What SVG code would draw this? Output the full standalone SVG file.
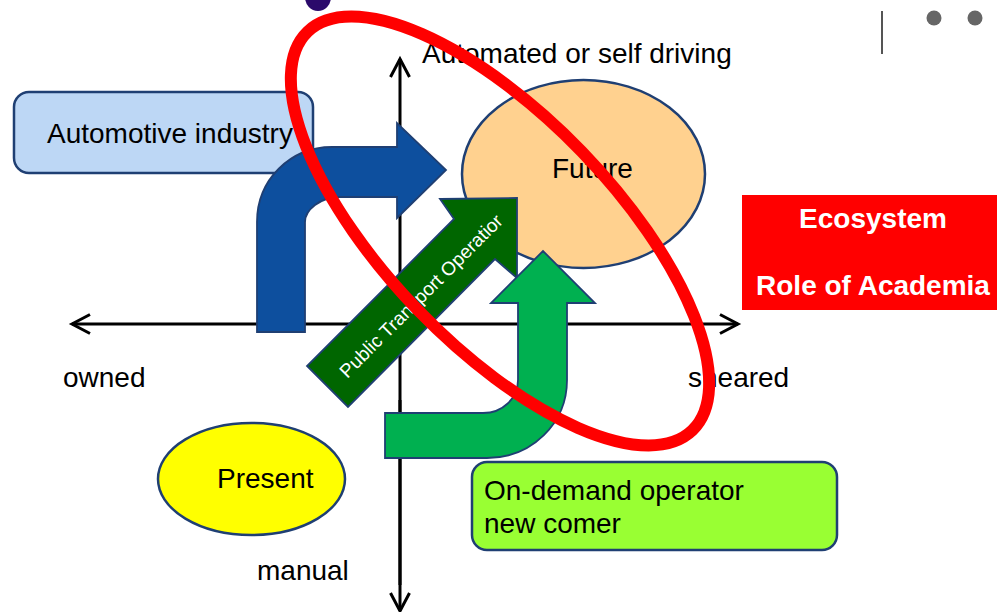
<svg xmlns="http://www.w3.org/2000/svg" width="997" height="612" viewBox="0 0 997 612">
<defs>
<style>
.t{font-family:"Liberation Sans",Arial,sans-serif;font-size:28px;fill:#000}
.tb{font-family:"Liberation Sans",Arial,sans-serif;font-size:28px;font-weight:bold;fill:#fff}
.box{stroke:#1F3F73;stroke-width:2.5}
.shape{stroke:#1F3F73;stroke-width:1.8}
.axis{stroke:#000;stroke-width:3;fill:none}
</style>
<marker id="ah" viewBox="-20 -12 24 24" refX="0" refY="0" markerWidth="24" markerHeight="24" markerUnits="userSpaceOnUse" orient="auto">
<path d="M-18,-9.5 L0,0 L-18,9.5" fill="none" stroke="#000" stroke-width="3"/>
</marker>
</defs>
<rect width="997" height="612" fill="#fff"/>
<ellipse id="purple-blob" cx="318" cy="-3" rx="13" ry="14" fill="#2B0A6B"/>
<g id="topright">
<line x1="882" y1="11" x2="882" y2="54" stroke="#555" stroke-width="2"/>
<circle cx="934" cy="18" r="7.5" fill="#666"/>
<circle cx="975" cy="18" r="7.5" fill="#666"/>
</g>
<g id="automotive-industry">
<rect x="14" y="92" width="299" height="81" rx="15" fill="#BDD7F5" class="box"/>
<text x="47" y="143" class="t">Automotive industry</text>
</g>
<g id="present">
<ellipse cx="251.5" cy="479" rx="93.5" ry="56" fill="#FFFF00" class="box"/>
<text x="217" y="488" class="t">Present</text>
</g>
<g id="future">
<ellipse cx="583.5" cy="174" rx="121.5" ry="94" fill="#FFD18F" class="box"/>
</g>
<g id="on-demand">
<rect x="472" y="462" width="365" height="88" rx="15" fill="#99FF33" class="box"/>
<text x="484" y="500" class="t">On-demand operator</text>
<text x="484" y="533" class="t">new comer</text>
</g>
<g id="ecosystem">
<rect x="742" y="195" width="255" height="115" fill="#FF0000"/>
<text x="873" y="228" class="tb" text-anchor="middle">Ecosystem</text>
<text x="873" y="295" class="tb" text-anchor="middle">Role of Academia</text>
</g>
<g id="connectors">
<line x1="400" y1="585" x2="400" y2="59" class="axis" marker-end="url(#ah)"/>
<line x1="400" y1="400" x2="400" y2="611" class="axis" marker-end="url(#ah)"/>
<line x1="400" y1="324" x2="72" y2="324" class="axis" marker-end="url(#ah)"/>
<line x1="400" y1="324" x2="738" y2="324" class="axis" marker-end="url(#ah)"/>
</g>
<g id="automotive-arrow">
<path d="M257,332 L257,222 C257,180 290,147 332,147 L397,147 L397,123 L446,170 L397,218 L397,197 L340,197 C320,197 305,210 305,222 L305,332 Z" fill="#0D4F9E" class="shape"/>
</g>
<g id="public-transport-arrow">
<polygon points="440,199 517,198 517,278 495,259 348,407 307,366 454,219" fill="#006600" class="shape"/>
<text transform="translate(421,296) rotate(-45)" x="0" y="6.5" text-anchor="middle" style="font-family:'Liberation Sans',Arial,sans-serif;font-size:19px;fill:#fff">Public Transport Operatior</text>
</g>
<g id="on-demand-arrow">
<path d="M385,413 L483,413 C503,413 518,398 518,380 L518,303 L491,303 L543,251 L595,303 L567,303 L567,380 C567,423 532,458 487,458 L385,458 Z" fill="#00B050" class="shape"/>
</g>
<g id="labels">
<text x="422" y="63" class="t">Automated or self driving</text>
<text x="552" y="178" class="t">Future</text>
<text x="63" y="387" class="t">owned</text>
<text x="688" y="387" class="t">sheared</text>
<text x="257" y="580" class="t">manual</text>
</g>
<ellipse id="red-ellipse" cx="500" cy="231" rx="277" ry="114" transform="rotate(46 500 231)" fill="none" stroke="#FF0000" stroke-width="12"/>
</svg>
